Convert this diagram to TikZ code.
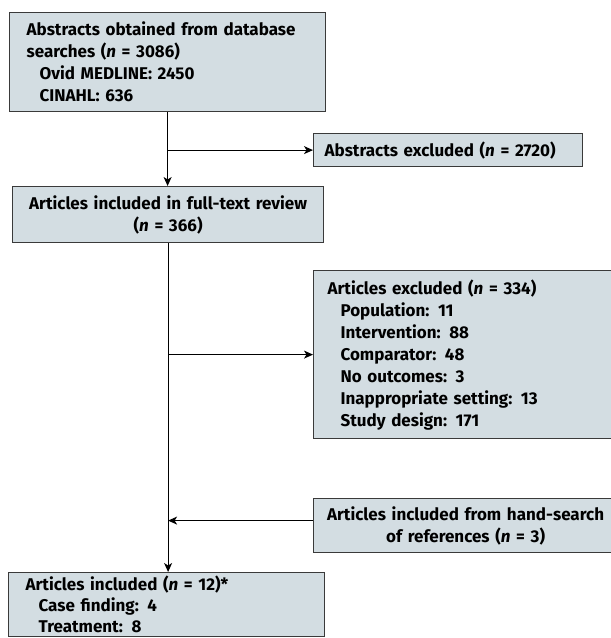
\documentclass[tikz,border=0pt]{standalone}
\usepackage{fontspec}
\setmainfont{Fira Sans}
\usepackage{xcolor}
\usetikzlibrary{arrows.meta}
\definecolor{boxfill}{HTML}{D3DDE2}
\definecolor{boxline}{HTML}{3A3A3A}
\newcommand{\ind}{\hspace*{13pt}}
\newcommand{\nn}{\textit{n}}

\begin{document}
\begin{tikzpicture}[x=1pt, y=-1pt,
    flowbox/.style={draw=boxline, fill=boxfill, line width=1.2pt, anchor=north west,
      inner sep=0pt, font=\bfseries\fontsize{17}{22}\selectfont},
    link/.style={line width=1.1pt, -{Stealth[length=9pt, width=8pt, inset=2.5pt]}}]
  \useasboundingbox (0,0) rectangle (611,638);
  %% main column
  \node[flowbox, minimum width=316pt, minimum height=99pt, text width=282pt, align=left]
    (search) at (9,12) {Abstracts obtained from database\\
      searches (\nn{} = 3086)\\ \ind Ovid MEDLINE: 2450\\ \ind CINAHL: 636};
  \node[flowbox, minimum width=311pt, minimum height=56pt, text width=297pt, align=center]
    (fulltext) at (12,186) {Articles included in full-text review\\ (\nn{} = 366)};
  \node[flowbox, minimum width=316pt, minimum height=64pt, text width=282pt, align=left,
    font=\bfseries\fontsize{17}{21}\selectfont]
    (final) at (8,572) {Articles included (\nn{} = 12)*\\ \ind Case finding: 4\\ \ind Treatment: 8};
  %% side boxes
  \node[flowbox, minimum width=269pt, minimum height=33pt, text width=247pt, align=left]
    (absexcl) at (313,133) {Abstracts excluded (\nn{} = 2720)};
  \node[flowbox, minimum width=304pt, minimum height=168pt, text width=276pt, align=left]
    (artexcl) at (313,270) {Articles excluded (\nn{} = 334)\\ \ind Population: 11\\
      \ind Intervention: 88\\ \ind Comparator: 48\\ \ind No outcomes: 3\\
      \ind Inappropriate setting: 13\\ \ind Study design: 171};
  \node[flowbox, minimum width=304pt, minimum height=54pt, text width=296pt, align=center]
    (hand) at (313,498) {Articles included from hand-search\\ of references (\nn{} = 3)};
  %% connectors
  \draw[link] (search.south) -- (search.south |- fulltext.north);
  \draw[link] (search.south |- absexcl.west) -- (absexcl.west);
  \draw[link] (fulltext.south) -- (fulltext.south |- final.north);
  \draw[link] (fulltext.south |- artexcl.west) -- (artexcl.west);
  \coordinate (handin) at ([yshift=5pt]hand.west);
  \draw[link] (handin) -- (handin -| fulltext.south);
\end{tikzpicture}
\end{document}
